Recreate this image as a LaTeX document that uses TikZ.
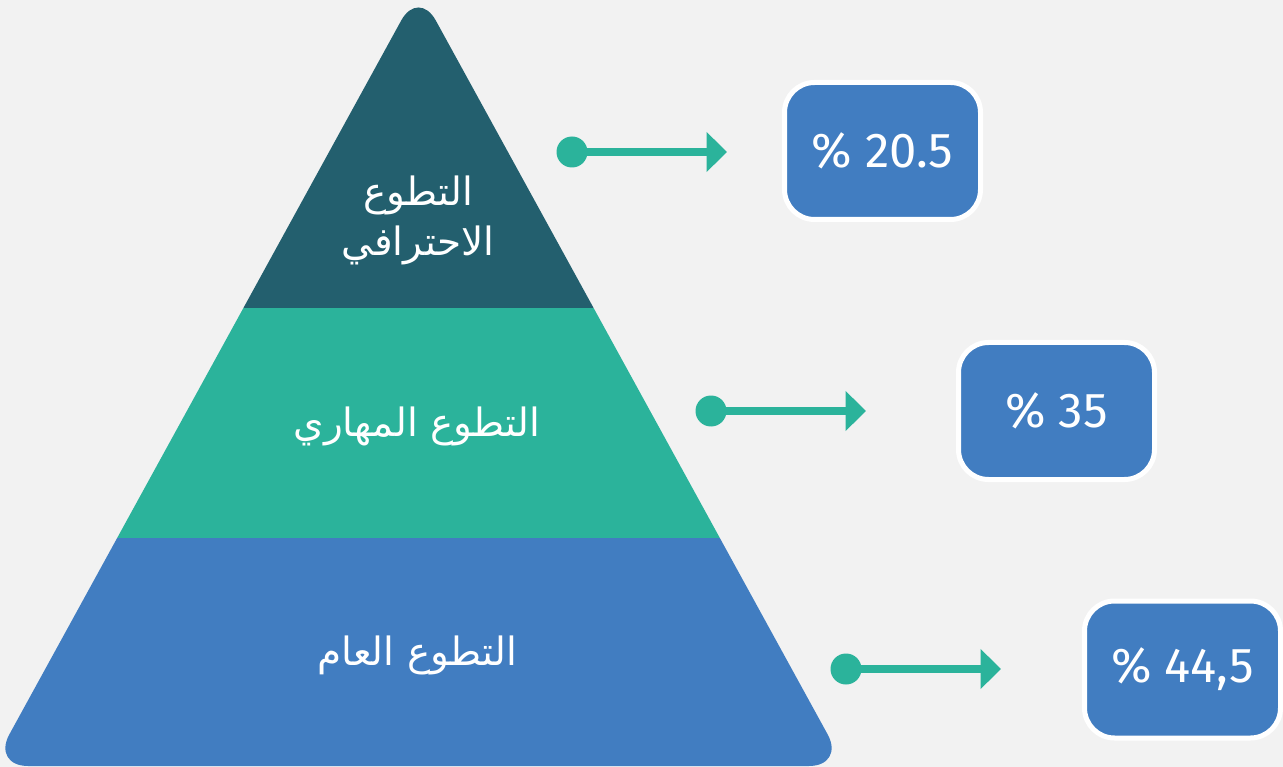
\documentclass[tikz,border=0pt]{standalone}
\usepackage{fontspec}
\usetikzlibrary{arrows.meta}
\TeXXeTstate=1
\newfontfamily\arabicfont[Script=Arabic]{DejaVu Sans}
\newfontfamily\numfont{Fira Sans}
\definecolor{bgc}{HTML}{F2F2F2}
\definecolor{darkteal}{HTML}{235F6E}
\definecolor{teal}{HTML}{2BB39B}
\definecolor{blue}{HTML}{417DC1}
\tikzset{
  label/.style={text=white, font=\arabicfont\fontsize{39}{50}\selectfont, align=center, inner sep=0pt},
  pctbox/.style={fill=blue, draw=white, line width=5pt, rounded corners=30pt,
    minimum width=196pt, minimum height=137pt, text=white,
    font=\numfont\fontsize{49}{49}\selectfont, inner sep=0pt},
  dotc/.style={circle, fill=teal, minimum size=31pt, inner sep=0pt},
  conn/.style={draw=teal, line width=8pt, -{Triangle[length=20.5pt, width=39pt]}}
}
\begin{document}
\begin{tikzpicture}[x=1pt, y=-1pt]
\useasboundingbox (0,0) rectangle (1283,767);
\fill[bgc] (0,0) rectangle (1283,767);
\begin{scope}
  \clip[rounded corners=36pt] (-8,766) -- (418.5,-11) -- (845,766) -- cycle;
  \fill[darkteal] (-20,-20) rectangle (860,308);
  \fill[teal] (-20,308) rectangle (860,538);
  \fill[blue] (-20,538) rectangle (860,780);
\end{scope}
\node[label] (l1) at (418,220) {\beginR التطوع\endR\\\beginR الاحترافي\endR};
\node[label] (l2) at (417,426) {\beginR التطوع المهاري\endR};
\node[label] (l3) at (417,655) {\beginR التطوع العام\endR};

\node[pctbox] (b1) at (882.5,151) {\% 20.5};
\node[pctbox] (b2) at (1056.5,411) {\% 35};
\node[pctbox] (b3) at (1182.5,669.5) {\% 44,5};

\node[dotc] (d1) at (572,152) {};
\node[dotc] (d2) at (711,411) {};
\node[dotc] (d3) at (846,669) {};
\coordinate (t1) at (727,152);
\coordinate (t2) at (866,411);
\coordinate (t3) at (1001,669);
\draw[conn] (d1.center) -- (t1);
\draw[conn] (d2.center) -- (t2);
\draw[conn] (d3.center) -- (t3);
\end{tikzpicture}
\end{document}
